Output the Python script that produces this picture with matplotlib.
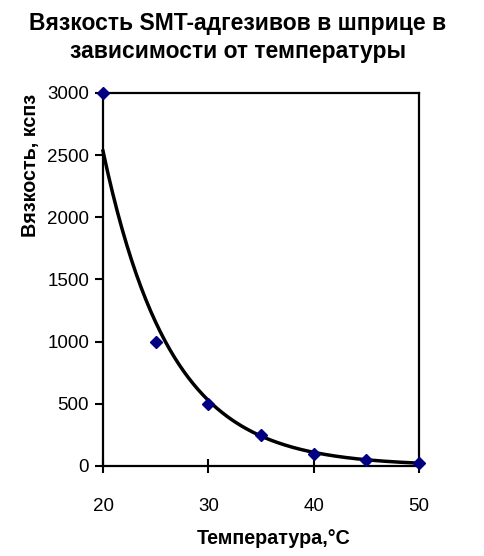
import numpy as np
import matplotlib
matplotlib.use("Agg")
import matplotlib.pyplot as plt

plt.rcParams['font.family'] = ['Liberation Sans', 'DejaVu Sans']

temperature = [20, 25, 30, 35, 40, 45, 50]
viscosity = [3000, 1000, 500, 250, 100, 50, 25]
x_ticks = [20, 30, 40, 50]
y_ticks = [0, 500, 1000, 1500, 2000, 2500, 3000]

# exponential trendline fitted to the data
b, a = np.polyfit(temperature, np.log(viscosity), 1)
xt = np.linspace(min(temperature), max(temperature), 200)
yt = np.exp(a + b * xt)

fig = plt.figure(figsize=(4.85, 5.56), dpi=100)
ax = fig.add_axes([0.2124, 0.1619, 0.6515, 0.6709])

ax.plot(xt, yt, color='black', lw=2.5, zorder=2, clip_on=False)
ax.plot(temperature, viscosity, linestyle='none', marker='D', markersize=6.5,
        color='#000080', zorder=3, clip_on=False)

ax.set_xlim(20, 50)
ax.set_ylim(0, 3000)
ax.set_xticks(x_ticks)
ax.set_yticks(y_ticks)
ax.tick_params(axis='x', direction='inout', length=10, width=1.5, labelsize=13.5, pad=18)
ax.tick_params(axis='y', direction='out', length=6, width=1.5, labelsize=13.5, pad=4)
for s in ax.spines.values():
    s.set_linewidth(1.6)

ax.set_xlabel('Температура,°С', fontsize=14.2, fontweight='bold')
ax.xaxis.set_label_coords(0.54, -0.17)
ax.set_ylabel('Вязкость, кспз', fontsize=14.2, fontweight='bold')
ax.yaxis.set_label_coords(-0.2, 0.805)

fig.text(0.49, 0.978, 'Вязкость SMT-адгезивов в шприце в\nзависимости от температуры',
         ha='center', va='top', fontsize=16.5, fontweight='bold', linespacing=1.25)

fig.savefig('out.png', dpi=100, facecolor='white')
